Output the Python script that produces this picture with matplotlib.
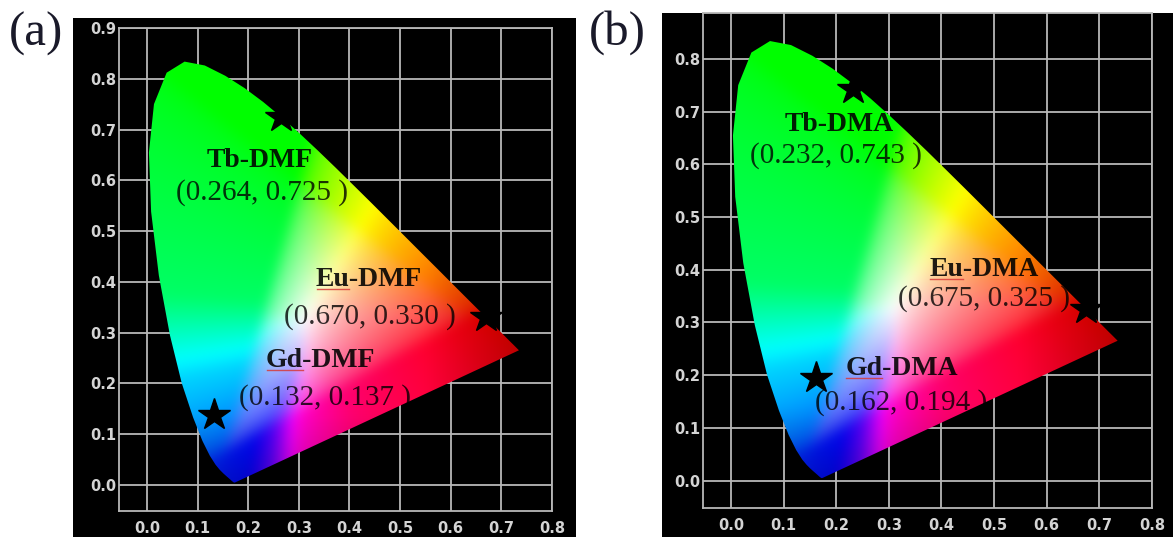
import numpy as np
import matplotlib
matplotlib.use('Agg')
import matplotlib.pyplot as plt
from matplotlib.patches import Polygon, Rectangle
from matplotlib.lines import Line2D
from matplotlib.transforms import IdentityTransform
from matplotlib.colors import rgb_to_hsv, hsv_to_rgb

# ---------------- data ----------------
# CIE 1931 2-degree spectral locus chromaticities, 380-700 nm
locus_x = [0.1741, 0.1740, 0.1738, 0.1736, 0.1733, 0.1730, 0.1726, 0.1721, 0.1714,
           0.1703, 0.1689, 0.1669, 0.1644, 0.1611, 0.1566, 0.1510, 0.1440, 0.1355,
           0.1241, 0.1096, 0.0913, 0.0687, 0.0454, 0.0235, 0.0082, 0.0039, 0.0139,
           0.0389, 0.0743, 0.1142, 0.1547, 0.1929, 0.2296, 0.2658, 0.3016, 0.3373,
           0.3731, 0.4087, 0.4441, 0.4788, 0.5125, 0.5448, 0.5752, 0.6029, 0.6270,
           0.6482, 0.6658, 0.6801, 0.6915, 0.7006, 0.7079, 0.7140, 0.7190, 0.7230,
           0.7260, 0.7283, 0.7300, 0.7311, 0.7320, 0.7334, 0.7347]
locus_y = [0.0050, 0.0050, 0.0049, 0.0049, 0.0048, 0.0048, 0.0048, 0.0048, 0.0051,
           0.0058, 0.0069, 0.0086, 0.0109, 0.0138, 0.0177, 0.0227, 0.0297, 0.0399,
           0.0578, 0.0868, 0.1327, 0.2007, 0.2950, 0.4127, 0.5384, 0.6548, 0.7502,
           0.8120, 0.8338, 0.8262, 0.8059, 0.7816, 0.7543, 0.7243, 0.6923, 0.6589,
           0.6245, 0.5896, 0.5547, 0.5202, 0.4866, 0.4544, 0.4242, 0.3965, 0.3725,
           0.3514, 0.3340, 0.3197, 0.3083, 0.2993, 0.2920, 0.2859, 0.2809, 0.2770,
           0.2740, 0.2717, 0.2700, 0.2689, 0.2680, 0.2666, 0.2653]

panel_labels = ['(a)', '(b)']

names_a = ['Tb-DMF', 'Eu-DMF', 'Gd-DMF']
cie_x_a = [0.264, 0.670, 0.132]
cie_y_a = [0.725, 0.330, 0.137]

names_b = ['Tb-DMA', 'Eu-DMA', 'Gd-DMA']
cie_x_b = [0.232, 0.675, 0.162]
cie_y_b = [0.743, 0.325, 0.194]

x_ticks = [0.0, 0.1, 0.2, 0.3, 0.4, 0.5, 0.6, 0.7, 0.8]
y_ticks_a = [0.0, 0.1, 0.2, 0.3, 0.4, 0.5, 0.6, 0.7, 0.8, 0.9]
y_ticks_b = [0.0, 0.1, 0.2, 0.3, 0.4, 0.5, 0.6, 0.7, 0.8]

# ---------------- layout ----------------
W, H = 1173, 537
fig = plt.figure(figsize=(W / 100, H / 100), dpi=100)
fig.patch.set_facecolor('white')

def fx(px):
    return px / W

def fy(py):
    return 1 - py / H

# black panel backgrounds (pixel boxes: left, top, right, bottom)
for (l, t, r, b) in [(73, 18, 576, 537), (662, 13, 1173, 537)]:
    fig.add_artist(Rectangle((fx(l), fy(b)), fx(r) - fx(l), fy(t) - fy(b),
                             transform=fig.transFigure, facecolor='black',
                             edgecolor='none', zorder=-5))

axes_boxes = [(119, 28, 552, 511), (703, 13, 1152, 508)]
xlims = [(-0.0552, 0.799), (-0.053, 0.800)]
ylims = [(-0.0512, 0.8996), (-0.052, 0.887)]
yticks_list = [y_ticks_a, y_ticks_b]
names_list = [names_a, names_b]
xs_list = [cie_x_a, cie_x_b]
ys_list = [cie_y_a, cie_y_b]
# label placements (name position, coordinate-string position) in data units
name_pos = [[(0.223, 0.640), (0.438, 0.404), (0.343, 0.246)],
            [(0.205, 0.676), (0.481, 0.401), (0.324, 0.213)]]
coord_pos = [[(0.227, 0.575), (0.440, 0.331), (0.351, 0.173)],
             [(0.200, 0.617), (0.480, 0.346), (0.323, 0.148)]]
panel_label_px = [(36, 34), (617, 33)]

# ---------------- chromaticity colours ----------------
M = np.array([[3.2406, -1.5372, -0.4986],
              [-0.9689, 1.8758, 0.0415],
              [0.0557, -0.2040, 1.0570]])
gx = np.linspace(-0.02, 0.78, 640)
gy = np.linspace(-0.03, 0.87, 720)
GX, GY = np.meshgrid(gx, gy)
Yc = np.clip(GY, 4e-3, None)
XX = np.clip(GX, 0, None) / Yc
ZZ = np.clip(1 - GX - GY, 0, None) / Yc
rgb = np.stack([M[i, 0] * XX + M[i, 1] + M[i, 2] * ZZ for i in range(3)], axis=-1)
rgb = np.clip(rgb, 0, None)
rgb = rgb / (rgb.max(axis=-1, keepdims=True) + 1e-12)
rgb = np.where(rgb <= 0.0031308, 12.92 * rgb, 1.055 * np.power(rgb, 1 / 2.4) - 0.055)
rgb = np.clip(rgb, 0, 1)
# warp hues to match the rendering of the original diagram
hsv = rgb_to_hsv(rgb)
hdeg = hsv[..., 0] * 360
hdeg = np.interp(hdeg,
                 [0, 120, 174, 196, 240, 273, 284, 295, 314, 345, 360],
                 [0, 120, 144, 190, 232, 238, 262, 310, 334, 355, 360])
hsv[..., 0] = (hdeg % 360) / 360
# slightly deeper tones in the red tip and along the purple base
shade = (1 - 0.28 * np.clip((GX - 0.55) / 0.2, 0, 1)
         - 0.22 * np.clip((0.14 - GY) / 0.14, 0, 1))
hsv[..., 2] = hsv[..., 2] * shade
rgb = hsv_to_rgb(hsv)

# soft gaussian blur to smooth the gradient
sig = 9.0
kx = np.arange(-30, 31)
ker = np.exp(-0.5 * (kx / sig) ** 2)
ker /= ker.sum()
pad = 30
rp = np.pad(rgb, ((pad, pad), (pad, pad), (0, 0)), mode='edge')
tmp_r = np.apply_along_axis(lambda v: np.convolve(v, ker, mode='same'), 0, rp)
tmp_r = np.apply_along_axis(lambda v: np.convolve(v, ker, mode='same'), 1, tmp_r)
rgb = np.clip(tmp_r[pad:-pad, pad:-pad, :], 0, 1)

grid_col = '#b8b8b8'
tick_col = '#d4d4d4'
serif = ['Liberation Serif', 'DejaVu Serif']

underline_jobs = []
for k in range(2):
    l, t, r, b = axes_boxes[k]
    ax = fig.add_axes([fx(l), fy(b), fx(r) - fx(l), fy(t) - fy(b)])
    ax.set_facecolor('black')
    ax.set_xlim(*xlims[k])
    ax.set_ylim(*ylims[k])
    ax.set_xticks(x_ticks)
    ax.set_yticks(yticks_list[k])
    ax.set_xticklabels([f'{v:.1f}' for v in x_ticks])
    ax.set_yticklabels([f'{v:.1f}' for v in yticks_list[k]])
    ax.tick_params(axis='both', length=0, colors=tick_col, labelsize=10.5)
    ax.tick_params(axis='x', pad=7)
    ax.tick_params(axis='y', pad=2)
    for lab in ax.get_xticklabels() + ax.get_yticklabels():
        lab.set_fontweight('bold')
        lab.set_color(tick_col)
    ax.grid(True, color=grid_col, lw=1.3)
    ax.set_axisbelow(True)
    for s in ax.spines.values():
        s.set_color(grid_col)
        s.set_linewidth(1.3)

    poly = Polygon(np.column_stack([locus_x, locus_y]), closed=True,
                   facecolor='none', edgecolor='none', transform=ax.transData)
    ax.add_patch(poly)
    im = ax.imshow(rgb, origin='lower', extent=(gx[0], gx[-1], gy[0], gy[-1]),
                   interpolation='bilinear', aspect='auto', zorder=2)
    im.set_clip_path(poly)

    ax.plot(xs_list[k], ys_list[k], ls='none', marker='*', color='black',
            ms=24, zorder=6)

    for i, nm in enumerate(names_list[k]):
        nx, ny = name_pos[k][i]
        tt = ax.text(nx, ny, nm, ha='center', va='center', family=serif,
                     fontweight='bold', fontsize=20, color='black', alpha=0.88,
                     zorder=7)
        cx, cy = coord_pos[k][i]
        ax.text(cx, cy, f'({xs_list[k][i]:.3f}, {ys_list[k][i]:.3f} )',
                ha='center', va='center', family=serif, fontsize=21,
                color='black', alpha=0.8, zorder=7)
        if i > 0:
            underline_jobs.append((ax, tt, nm[:2]))

for k, lab in enumerate(panel_labels):
    px, py = panel_label_px[k]
    fig.text(fx(px), fy(py), lab, ha='center', va='center', family=serif,
             fontsize=35, color='#1a1a2a')

# thin red underline under "Eu" and "Gd"
fig.canvas.draw()
renderer = fig.canvas.get_renderer()
for ax, tt, prefix in underline_jobs:
    bb = tt.get_window_extent(renderer)
    tmp = ax.text(0, 0, prefix, family=serif, fontweight='bold', fontsize=20)
    w = tmp.get_window_extent(renderer).width
    tmp.remove()
    yline = bb.y0 + 3
    fig.add_artist(Line2D([bb.x0 + 1, bb.x0 + w], [yline, yline],
                          transform=IdentityTransform(), color='#d83a3a',
                          lw=1.0, alpha=0.85, zorder=10))

fig.savefig('out.png', dpi=100, facecolor='white')
